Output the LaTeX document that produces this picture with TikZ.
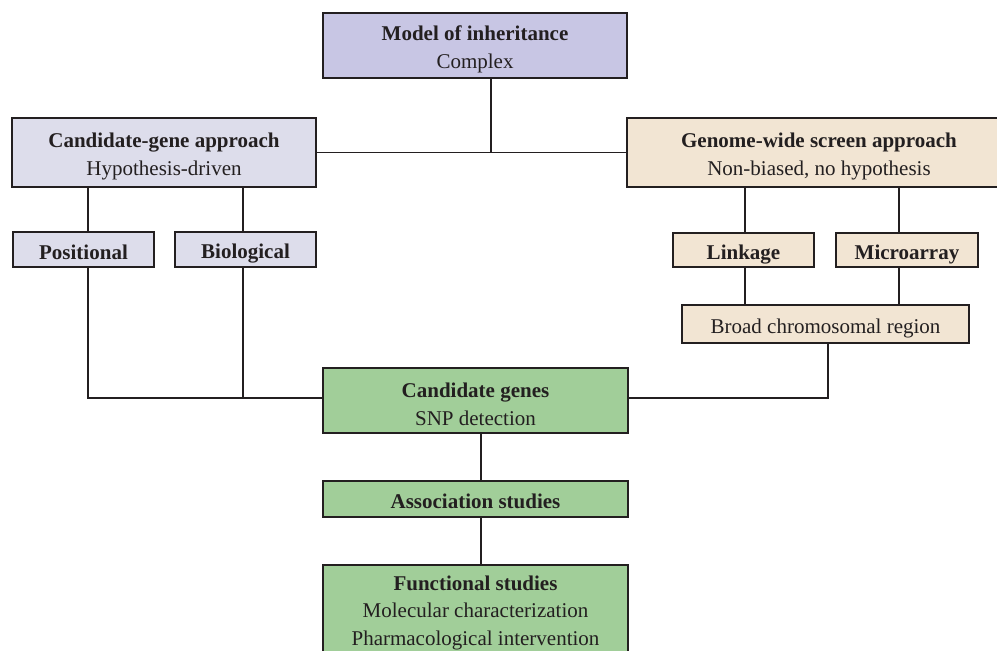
\documentclass[tikz,border=0pt]{standalone}
\usepackage{fontspec}
\setmainfont{Liberation Serif}
\definecolor{purp}{RGB}{200,198,228}
\definecolor{lav}{RGB}{221,221,235}
\definecolor{beige}{RGB}{242,229,211}
\definecolor{grn}{RGB}{161,206,153}
\definecolor{ink}{RGB}{35,31,32}
\newcommand\dn[1]{\raisebox{-3.5pt}[\height][\depth]{#1}}
\newcommand\one[1]{\raisebox{-4.5pt}[\height][\depth]{#1\vphantom{Ag}}}
\begin{document}
\begin{tikzpicture}[x=1pt,y=-1pt,
  box/.style={draw=ink, line width=1.4pt, rectangle, inner sep=0pt, align=center, text=ink, font=\fontsize{21}{28}\selectfont},
  conn/.style={draw=ink, line width=1.4pt}]
\useasboundingbox (0,0) rectangle (997,651);
\clip (0,0) rectangle (997,651);
\node[box, fill=purp, minimum width=304, minimum height=65] (model) at (475,45.5) {\dn{\textbf{Model of inheritance}}\\\dn{Complex}};
\node[box, fill=lav, minimum width=304, minimum height=69] (cg) at (164,152.5) {\dn{\textbf{Candidate-gene approach}}\\\dn{Hypothesis-driven}};
\node[box, fill=beige, minimum width=384, minimum height=69] (gw) at (819,152.5) {\dn{\textbf{Genome-wide screen approach}}\\\dn{Non-biased, no hypothesis}};
\node[box, fill=lav, minimum width=141, minimum height=35] (pos) at (83.5,249.5) {\one{\textbf{Positional}}};
\node[box, fill=lav, minimum width=141, minimum height=35] (bio) at (245.5,249.5) {\one{\textbf{Biological}}};
\node[box, fill=beige, minimum width=141, minimum height=34] (link) at (743.5,250) {\one{\textbf{Linkage}}};
\node[box, fill=beige, minimum width=142, minimum height=34] (micro) at (907,250) {\one{\textbf{Microarray}}};
\node[box, fill=beige, minimum width=287, minimum height=38] (broad) at (825.5,324) {\one{Broad chromosomal region}};
\node[box, fill=grn, minimum width=305, minimum height=65] (cand) at (475.5,400.5) {\dn{\textbf{Candidate genes}}\\\dn{SNP detection}};
\node[box, fill=grn, minimum width=305, minimum height=36] (assoc) at (475.5,499) {\one{\textbf{Association studies}}};
\node[box, fill=grn, minimum width=305, minimum height=88, font=\fontsize{21}{27.5}\selectfont] (func) at (475.5,609) {\dn{\textbf{Functional studies}}\\\dn{Molecular characterization}\\\dn{Pharmacological intervention}};
% connectors
\draw[conn] (cg.east) -- (gw.west);
\coordinate (j1) at ([xshift=16pt]model.south |- cg.east);
\draw[conn] ([xshift=16pt]model.south) -- (j1);
\draw[conn] ([xshift=4.5pt]pos.north) -- ([xshift=4.5pt]pos.north |- cg.south);
\draw[conn] ([xshift=-2.5pt]bio.north) -- ([xshift=-2.5pt]bio.north |- cg.south);
\draw[conn] ([xshift=1.5pt]link.north) -- ([xshift=1.5pt]link.north |- gw.south);
\draw[conn] ([xshift=-8pt]micro.north) -- ([xshift=-8pt]micro.north |- gw.south);
\draw[conn] ([xshift=1.5pt]link.south) -- ([xshift=1.5pt]link.south |- broad.north);
\draw[conn] ([xshift=-8pt]micro.south) -- ([xshift=-8pt]micro.south |- broad.north);
\coordinate (jl) at ([yshift=2.5pt]cand.west);
\draw[conn] ([xshift=4.5pt]pos.south) |- (jl);
\draw[conn] ([xshift=-2.5pt]bio.south) -- ([xshift=-2.5pt]bio.south |- jl);
\draw[conn] ([xshift=2.5pt]broad.south) |- ([yshift=2.5pt]cand.east);
\draw[conn] ([xshift=5.5pt]cand.south) -- ([xshift=5.5pt]cand.south |- assoc.north);
\draw[conn] ([xshift=5.5pt]assoc.south) -- ([xshift=5.5pt]assoc.south |- func.north);
\end{tikzpicture}
\end{document}
